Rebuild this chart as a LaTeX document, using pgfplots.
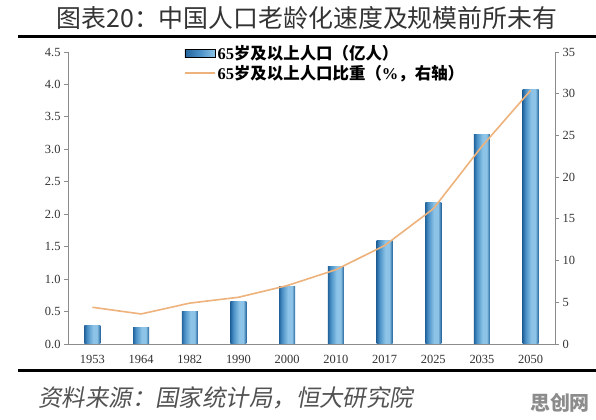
\documentclass[border=0pt]{standalone}
\usepackage{fontspec}
\setmainfont{Liberation Serif}
\newfontfamily\cjk{Noto Sans CJK SC}
\newfontfamily\cjksl{Noto Sans CJK SC}[FakeSlant=0.18]
\usepackage{pgfplots}
\pgfplotsset{compat=1.18}

\definecolor{bdark}{HTML}{23649C}
\definecolor{bmid}{HTML}{4A90C6}
\definecolor{blight}{HTML}{8CC3E6}
\definecolor{lineorange}{HTML}{EEB27C}
\definecolor{axisgray}{HTML}{8C8C8C}
\definecolor{labelgray}{HTML}{333333}

% cylinder-like shading across each bar
\pgfdeclarehorizontalshading{barshade}{100bp}{color(0bp)=(bdark); color(25bp)=(bdark); color(34bp)=(bmid); color(52bp)=(blight); color(65bp)=(blight); color(75bp)=(bdark); color(100bp)=(bdark)}
\pgfdeclarehorizontalshading{legshade}{100bp}{color(0bp)=(bdark); color(25bp)=(bdark); color(50bp)=(bmid); color(75bp)=(blight); color(100bp)=(blight)}

\pgfplotstableread{
x year pop share
0 1953 0.28 4.4
1 1964 0.26 3.6
2 1982 0.50 4.9
3 1990 0.65 5.6
4 2000 0.89 7.0
5 2010 1.20 8.9
6 2017 1.59 11.8
7 2025 2.18 16.2
8 2035 3.23 23.7
9 2050 3.92 30.4
}\datatable

\pgfplotsset{
  common/.style={
    at={(68bp,76bp)}, anchor=south west,
    scale only axis, width=487bp, height=292bp,
    xmin=-0.5, xmax=9.5,
    axis line style={axisgray, line width=0.8bp},
    major tick length=4bp,
    tick align=outside,
    tick style={axisgray, line width=0.8bp},
    ticklabel style={font=\fontsize{12.5}{12.5}\selectfont, text=labelgray},
    /pgf/number format/assume math mode=true,
  },
  barleg/.style={legend image code/.code={\path[shading=legshade] (0bp,-4bp) rectangle (30bp,4bp);}},
  lineleg/.style={legend image code/.code={\draw[lineorange, line width=1.5bp] (0bp,0bp) -- (30bp,0bp);}},
}

\begin{document}
\begin{tikzpicture}
\path[use as bounding box] (0,0) rectangle (596bp,420bp);
\fill[white] (0,0) rectangle (596bp,420bp);

% heading and rules
\node[font=\cjk\fontsize{25}{25}\selectfont, text=labelgray] at (307bp,402bp) {图表20：中国人口老龄化速度及规模前所未有};
\draw[black, line width=3bp] (18bp,383bp) -- (596bp,383bp);
\draw[black, line width=3bp] (18bp,49bp) -- (596bp,49bp);

% left axis: population aged 65+ (hundred million)
\begin{axis}[common,
  axis x line*=bottom, axis y line*=left,
  ymin=0, ymax=4.5, ytick={0,0.5,...,4.5},
  yticklabel style={/pgf/number format/.cd, fixed, fixed zerofill, precision=1},
  xtick={0,...,9},
  xticklabels={1953,1964,1982,1990,2000,2010,2017,2025,2035,2050},
  x tick style={draw=none},
  xticklabel style={yshift=-4bp},
  extra x ticks={-0.5,0.5,1.5,2.5,3.5,4.5,5.5,6.5,7.5,8.5,9.5},
  extra x tick labels={},
  extra x tick style={tick style={draw=axisgray, line width=0.8bp}},
  legend style={draw=none, fill=none, at={(axis description cs:0.238,1.030)}, anchor=north west,
    font=\fontsize{16.5}{16.5}\selectfont, row sep=0bp, inner sep=0pt,
    cells={anchor=west}},
]
% one plot per bar so that each bar gets its own shading
\pgfplotsinvokeforeach{0,...,9}{
  \addplot[ybar, bar width=16bp, bar shift=0pt, draw=none, shading=barshade, forget plot]
    table[x=x, y=pop, restrict x to domain=#1:#1] {\datatable};
}
\addlegendimage{barleg}
\addlegendentry{\textbf{65}{\cjk\bfseries 岁及以上人口（亿人）}}
\addlegendimage{lineleg}
\addlegendentry{\textbf{65}{\cjk\bfseries 岁及以上人口比重（}\textbf{\%}{\cjk\bfseries ，右轴）}}
\end{axis}

% right axis: share of population aged 65+ (%)
\begin{axis}[common,
  axis x line=none, axis y line*=right,
  ymin=0, ymax=35, ytick={0,5,...,35},
]
\addplot[lineorange, line width=1.6bp, line join=round] table[x=x, y=share] {\datatable};
\end{axis}

% source and watermark
\node[anchor=west, font=\cjksl\fontsize{23.5}{23.5}\selectfont, text=black!68] at (35bp,22bp) {资料来源：国家统计局，恒大研究院};
\node[font=\cjk\bfseries\fontsize{20}{20}\selectfont, text=black!45] at (560bp,17bp) {思创网};
\end{tikzpicture}
\end{document}
